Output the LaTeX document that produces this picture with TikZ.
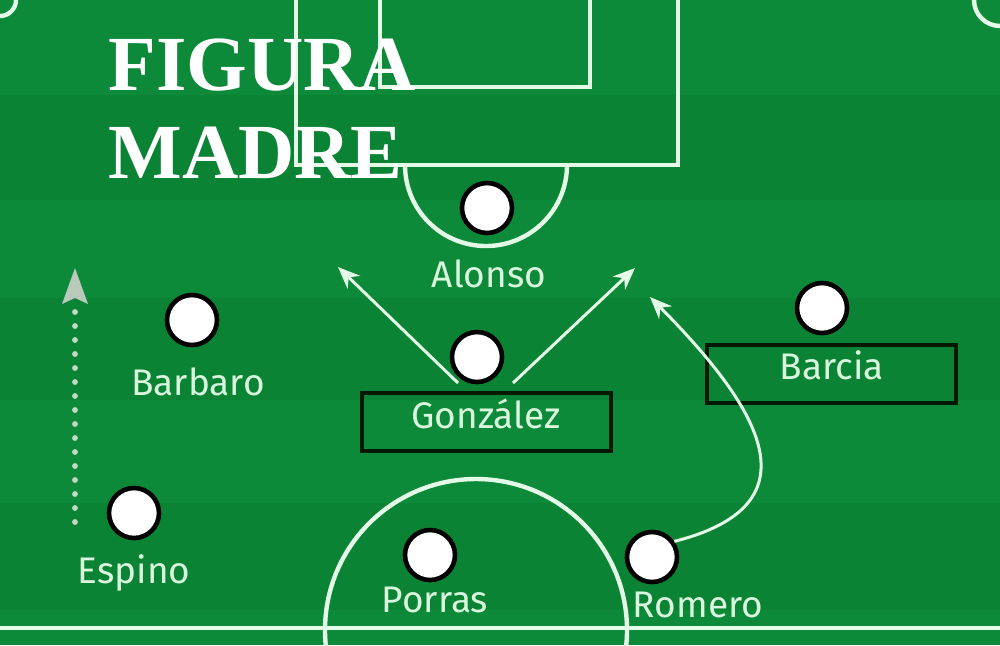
\documentclass[tikz,border=0pt]{standalone}
\usepackage{fontspec}
\setmainfont{Fira Sans}
\newfontfamily\titlefont{Liberation Serif}
\usetikzlibrary{arrows.meta}
\definecolor{grassA}{HTML}{0D8A39}
\definecolor{grassB}{HTML}{0B8334}
\definecolor{chalk}{HTML}{E2FAE6}
\definecolor{labelc}{HTML}{D9F7DD}
\definecolor{dotc}{HTML}{BFDCC4}
\definecolor{headc}{HTML}{B9C9BC}
\tikzset{
  pitchline/.style={draw=chalk, line width=2.2pt},
  player/.style={circle, draw=black, line width=2.3pt, fill=white, minimum size=25pt, inner sep=0pt},
  namebox/.style={rectangle, draw=black!90!green, line width=1.7pt, minimum width=124.5pt, minimum height=29pt, inner sep=0pt},
  lbl/.style={text=labelc, font=\fontsize{18.5}{22}\selectfont, anchor=base, inner sep=0pt},
  ttl/.style={text=white, font=\titlefont\bfseries\fontsize{39}{44}\selectfont, anchor=base west, inner sep=0pt},
  runarrow/.style={draw=chalk, line width=1.5pt, -{Stealth[length=11pt,width=9pt]}},
}
\begin{document}
\begin{tikzpicture}[x=0.5pt,y=-0.5pt]
\useasboundingbox (0,0) rectangle (1000,645);
\clip (0,0) rectangle (1000,645);
% grass with faint bands
\fill[grassA] (0,0) rectangle (1000,645);
\fill[grassB] (0,95) rectangle (1000,200);
\fill[grassB] (0,298) rectangle (1000,400);
\fill[grassB] (0,503) rectangle (1000,610);
% pitch markings
\draw[pitchline] (296,-5) -- (296,165) -- (678,165) -- (678,-5);
\draw[pitchline] (380,-5) -- (380,87) -- (590,87) -- (590,-5);
\draw[pitchline] (405,165) arc[start angle=180, end angle=0, radius=81];
\draw[pitchline] (0,0) circle[radius=16];
\draw[pitchline] (1000,0) circle[radius=26];
\draw[pitchline] (-5,628) -- (1005,628);
\draw[pitchline] (476,630) circle[radius=151];
% title
\node[ttl] (t1) at (108,90) {FIGURA};
\node[ttl] (t2) at (108,178) {MADRE};
% boxes
\node[namebox] (gbox) at (486.5,422) {};
\node[namebox] (bbox) at (831.5,374) {};
% players
\node[player] (alonso) at (487,208) {};
\node[player] (barbaro) at (192,320) {};
\node[player] (gonzalez) at (477,357) {};
\node[player] (barcia) at (822,308) {};
\node[player] (espino) at (134,513) {};
\node[player] (porras) at (430,555) {};
\node[player] (romero) at (652,557) {};
% labels
\node[lbl] (lalonso) at (489,287) {Alonso};
\node[lbl] (lbarbaro) at (198,395) {Barbaro};
\node[lbl] (lgonzalez) at (486,428) {González};
\node[lbl] (lbarcia) at (832,379) {Barcia};
\node[lbl] (lespino) at (134,583) {Espino};
\node[lbl] (lporras) at (435,612) {Porras};
\node[lbl] (lromero) at (698,617) {Romero};
% runs
\coordinate (g1) at (458,383);
\coordinate (g2) at (513,383);
\coordinate (tl) at (338,267);
\coordinate (tr) at (635,268);
\coordinate (tc) at (650,297);
\draw[runarrow] (g1) -- (tl);
\draw[runarrow] (g2) -- (tr);
\draw[runarrow] (romero.35) .. controls (818,505) and (762,410) .. (tc);
% dotted run
\coordinate (d0) at (75,522);
\coordinate (d1) at (75,305);
\coordinate (dt) at (75,268);
\draw[dotc, line width=2.9pt, line cap=round, dash pattern=on 0pt off 7pt] (d0) -- (d1);
\fill[headc] (dt) -- (88,304) -- (75,298) -- (62,304) -- cycle;
\end{tikzpicture}
\end{document}
